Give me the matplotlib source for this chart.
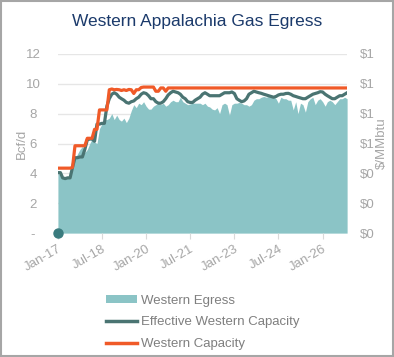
import matplotlib
matplotlib.use("Agg")
import matplotlib.pyplot as plt
from matplotlib.patches import Patch, Rectangle
from matplotlib.lines import Line2D
import pandas as pd

plt.rcParams['font.family'] = ['Liberation Sans', 'DejaVu Sans']

title = "Western Appalachia Gas Egress"
start_month = "2017-01-01"

western_egress = [
    4.0, 3.9, 3.7, 3.65, 3.7, 3.8, 4.4, 5.0, 5.3, 5.6,
    5.8, 5.4, 5.6, 6.0, 6.3, 6.1, 6.0, 7.0, 7.3, 7.6,
    7.6, 7.7, 8.0, 7.6, 7.9, 7.6, 7.5, 7.7, 7.4, 7.7,
    8.2, 8.6, 8.4, 8.7, 8.6, 8.8, 8.5, 8.3, 8.3, 8.5,
    8.6, 8.7, 8.6, 8.7, 8.5, 8.6, 8.8, 8.9, 8.8, 8.8,
    9.1, 8.8, 8.7, 8.6, 8.65, 8.7, 8.7, 8.7, 8.7, 8.6,
    8.7, 8.5, 8.45, 8.3, 8.25, 8.4, 8.0, 8.6, 8.7, 8.6,
    7.9, 8.6, 8.7, 8.7, 8.75, 8.7, 8.6, 8.6, 8.5, 8.6,
    8.9, 9.0, 9.0, 9.1, 9.15, 9.1, 9.15, 9.1, 9.15, 9.0,
    8.7, 9.1, 9.0, 9.0, 8.9, 8.9, 8.25, 8.8, 8.0, 8.7,
    8.6, 8.1, 8.8, 9.0, 9.1, 8.6, 8.9, 9.0, 8.8, 8.5,
    8.8, 8.9, 8.8, 8.6, 8.8, 9.0, 9.0, 9.1, 9.0,
]

effective_capacity = [
    4.05, 4.05, 3.7, 3.65, 3.7, 3.7, 4.4, 5.05, 5.05, 5.1,
    5.1, 5.6, 6.25, 6.3, 6.3, 6.15, 7.3, 7.3, 7.35, 7.35,
    8.5, 9.0, 9.3, 9.4, 9.3, 9.1, 9.0, 8.9, 8.75, 8.7,
    8.8, 8.85, 9.0, 9.1, 9.3, 9.4, 9.35, 9.2, 9.0, 9.0,
    8.8, 8.7, 8.7, 8.8, 9.0, 9.25, 9.4, 9.5, 9.45, 9.4,
    9.3, 9.1, 9.0, 8.8, 8.75, 8.75, 8.9, 9.0, 9.1, 9.3,
    9.4, 9.3, 9.2, 9.2, 9.2, 9.2, 9.2, 9.3, 9.4, 9.4,
    9.4, 9.45, 9.35, 9.0, 8.9, 8.8, 8.85, 9.0, 9.3, 9.4,
    9.5, 9.45, 9.4, 9.36, 9.3, 9.25, 9.2, 9.15, 9.1, 9.15,
    9.25, 9.3, 9.3, 9.35, 9.36, 9.3, 9.2, 9.15, 9.1, 9.05,
    9.0, 9.0, 9.1, 9.2, 9.3, 9.35, 9.4, 9.47, 9.45, 9.3,
    9.2, 9.1, 9.0, 9.0, 9.1, 9.2, 9.2, 9.3, 9.4,
]

western_capacity = [
    4.35, 4.35, 4.35, 4.35, 4.35, 4.35, 4.4, 5.85, 5.85, 5.85,
    5.85, 5.85, 6.35, 6.35, 6.35, 6.95, 6.95, 8.25, 8.25, 8.25,
    8.25, 9.6, 9.65, 9.6, 9.62, 9.6, 9.55, 9.6, 9.55, 9.62,
    9.6, 9.35, 9.6, 9.6, 9.75, 9.78, 9.78, 9.78, 9.78, 9.78,
    9.5, 9.5, 9.72, 9.72, 9.5, 9.72, 9.72, 9.72, 9.72, 9.72,
    9.72, 9.72, 9.72, 9.72, 9.72, 9.72, 9.72, 9.72, 9.72, 9.72,
    9.72, 9.72, 9.72, 9.72, 9.72, 9.72, 9.72, 9.72, 9.72, 9.72,
    9.72, 9.72, 9.72, 9.72, 9.72, 9.72, 9.72, 9.72, 9.72, 9.72,
    9.72, 9.72, 9.72, 9.72, 9.72, 9.72, 9.72, 9.72, 9.72, 9.72,
    9.72, 9.72, 9.72, 9.72, 9.72, 9.72, 9.72, 9.72, 9.72, 9.72,
    9.72, 9.72, 9.72, 9.72, 9.72, 9.72, 9.72, 9.72, 9.72, 9.72,
    9.72, 9.72, 9.72, 9.72, 9.72, 9.72, 9.72, 9.72, 9.72,
]

price_marker_value = [0.0]

x_tick_labels = ["Jan-17", "Jul-18", "Jan-20", "Jul-21", "Jan-23", "Jul-24", "Jan-26"]
left_ticks = [0, 2, 4, 6, 8, 10, 12]
left_tick_labels = ["-", "2", "4", "6", "8", "10", "12"]
right_ticks = [0, 0.2, 0.4, 0.6, 0.8, 1.0, 1.2]
right_tick_labels = ["$0", "$0", "$0", "$1", "$1", "$1", "$1"]
legend_labels = ["Western Egress", "Effective Western Capacity", "Western Capacity"]

C_FILL = "#8BC4C6"
C_DARK = "#4A7472"
C_ORANGE = "#F05A28"
C_DOT = "#3A7B7E"
C_TEXT = "#A6A6A6"
C_TITLE = "#1B3A6B"
C_GRID = "#E6E6E6"

dates = pd.date_range(start_month, periods=len(western_egress), freq="MS")
tick_dates = [pd.to_datetime(s, format="%b-%y") for s in x_tick_labels]

fig = plt.figure(figsize=(3.94, 3.57), dpi=100)
ax = fig.add_axes([0.147, 0.347, 0.734, 0.502])

for v in left_ticks[1:]:
    ax.axhline(v, color=C_GRID, lw=1.0, zorder=0)
ax.fill_between(dates, 0, western_egress, color=C_FILL, lw=0, zorder=1)
ax.plot(dates, effective_capacity, color=C_DARK, lw=2.3, zorder=3, solid_joinstyle="round")
ax.plot(dates, western_capacity, color=C_ORANGE, lw=2.3, zorder=4, solid_joinstyle="round")

ax.set_xlim(dates[0], dates[-1])
ax.set_ylim(0, 12)
ax.set_yticks(left_ticks)
ax.set_yticklabels(left_tick_labels)
ax.set_xticks(tick_dates)
ax.set_xticklabels(x_tick_labels, rotation=30, ha="right", rotation_mode="anchor")
ax.tick_params(axis="y", length=0, colors=C_TEXT, labelsize=9.5, pad=18)
ax.tick_params(axis="x", length=4, width=0.8, color="#D9D9D9", colors=C_TEXT, labelsize=9.5, pad=3)
for s in ax.spines.values():
    s.set_visible(False)
ax.set_ylabel("Bcf/d", color=C_TEXT, fontsize=9.5)
ax.yaxis.set_label_coords(-0.104, 0.5)
for lbl in ax.get_yticklabels():
    lbl.set_horizontalalignment("center")

ax2 = ax.twinx()
ax2.set_ylim(0, 1.2)
ax2.set_yticks(right_ticks)
ax2.set_yticklabels(right_tick_labels)
ax2.tick_params(axis="y", length=0, colors=C_TEXT, labelsize=9.5, pad=9)
for s in ax2.spines.values():
    s.set_visible(False)
ax2.set_ylabel("$/MMbtu", color=C_TEXT, fontsize=9.5)
ax2.yaxis.set_label_coords(1.1, 0.5)
ax2.plot([dates[0]], price_marker_value, "o", color=C_DOT, ms=6.5, clip_on=False, zorder=5)

fig.text(0.5, 0.94, title, ha="center", va="center", color=C_TITLE, fontsize=12.5)

handles = [Patch(facecolor=C_FILL, edgecolor="none"),
           Line2D([], [], color=C_DARK, lw=2.5),
           Line2D([], [], color=C_ORANGE, lw=2.5)]
leg = fig.legend(handles, legend_labels, loc="upper left", bbox_to_anchor=(0.268, 0.175),
                 frameon=False, fontsize=9.5, handlelength=2.4, handleheight=0.55,
                 labelspacing=0.75, handletextpad=0.3, borderaxespad=0, borderpad=0)
for t in leg.get_texts():
    t.set_color("#7F7F7F")

fig.patches.append(Rectangle((0.002, 0.002), 0.996, 0.996, transform=fig.transFigure,
                             fill=False, edgecolor="#A6A6A6", lw=1.5))

fig.savefig("out.png", dpi=100)
